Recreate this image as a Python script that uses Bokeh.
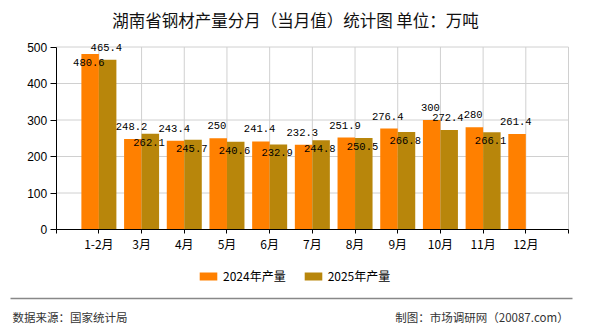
from bokeh.plotting import figure
from bokeh.models import (Range1d, FixedTicker, Label, ColumnDataSource, Legend,
                          LegendItem, BoxAnnotation, LinearAxis)
from bokeh.core.properties import value
from bokeh.embed import file_html
from bokeh.resources import INLINE

# ---- data ----
categories = ["1-2月", "3月", "4月", "5月", "6月", "7月", "8月", "9月", "10月", "11月", "12月"]
prod_2024 = [480.6, 248.2, 243.4, 250, 241.4, 232.3, 251.9, 276.4, 300, 280, 261.4]
prod_2025 = [465.4, 262.1, 245.7, 240.6, 232.9, 244.8, 250.5, 266.8, 272.4, 266.1]
y_ticks = [0, 100, 200, 300, 400, 500]
series_names = ["2024年产量", "2025年产量"]
# label placement (style): "out" above bar top, "in" just below bar top
place_2024 = ["in"] + ["out"] * 10
place_2025 = ["out", "in", "in", "in", "in", "in", "in", "in", "out", "in"]

C24 = "#FF8000"
C25 = "#B8860B"
GRID = "#d0d0d0"
CJK = "Noto Sans CJK SC"

n = len(categories)
W, H = 590, 330
# plot area in canvas pixels
PX_L, PX_R, PX_T, PX_B = 55.7, 568.0, 46.5, 229.0
x_lo, x_hi = 0, n + 1
y_lo, y_hi = y_ticks[0], y_ticks[-1]
ux = (PX_R - PX_L) / (x_hi - x_lo)
uy = (PX_B - PX_T) / (y_hi - y_lo)
xr = Range1d(x_lo - PX_L / ux, x_hi + (W - PX_R) / ux)
yr = Range1d(y_lo - (H - PX_B) / uy, y_hi + PX_T / uy)

p = figure(width=W, height=H, output_backend="svg", toolbar_location=None,
           x_range=xr, y_range=yr, x_axis_location=None, y_axis_location=None,
           min_border=0, min_border_left=0, min_border_right=0,
           min_border_top=0, min_border_bottom=0)
p.outline_line_color = None
p.background_fill_color = "white"
p.border_fill_color = "white"
p.grid.visible = False

# grid lines (limited to the plot area)
xg = list(range(x_lo + 1, x_hi + 1))
p.segment(x0=xg, y0=[y_lo] * len(xg), x1=xg, y1=[y_hi] * len(xg),
          line_color=GRID, line_width=1)
yg = y_ticks[1:]
p.segment(x0=[x_lo] * len(yg), y0=yg, x1=[x_hi] * len(yg), y1=yg,
          line_color=GRID, line_width=1)

# axes drawn inside the frame at fixed locations
xa = LinearAxis(fixed_location=y_lo, bounds=(x_lo, x_hi))
xa.ticker = FixedTicker(ticks=list(range(x_lo, x_hi + 1)))
ov = {x_lo: "", x_hi: ""}
for i, c in enumerate(categories):
    ov[i + 1] = c
xa.major_label_overrides = ov
xa.axis_line_color = "black"
xa.major_tick_line_color = "black"
xa.major_tick_out = 4
xa.major_tick_in = 0
xa.minor_tick_line_color = None
xa.major_label_standoff = 1
xa.major_label_text_font = CJK
xa.major_label_text_font_size = "12px"
xa.major_label_text_color = "black"
p.add_layout(xa, "below")

ya = LinearAxis(fixed_location=x_lo, bounds=(y_lo, y_hi))
ya.ticker = FixedTicker(ticks=y_ticks)
ya.axis_line_color = "black"
ya.major_tick_line_color = "black"
ya.major_tick_out = 6
ya.major_tick_in = 0
ya.minor_tick_line_color = None
ya.major_label_standoff = 3
ya.major_label_text_font = "Liberation Sans"
ya.major_label_text_font_size = "12px"
ya.major_label_text_color = "black"
p.add_layout(ya, "left")

# bars
bw = 0.41
x24 = [i + 1 - bw / 2 for i in range(len(prod_2024))]
x25 = [i + 1 + bw / 2 for i in range(len(prod_2025))]
r24 = p.vbar(x=x24, top=prod_2024, width=bw, fill_color=C24, line_color=None)
r25 = p.vbar(x=x25, top=prod_2025, width=bw, fill_color=C25, line_color=None)

# value labels
OUT, IN = -12.5, 8.5
s24 = ColumnDataSource(dict(x=[v - 0.03 for v in x24], y=prod_2024,
                            t=[f"{v:g}" for v in prod_2024],
                            off=[OUT if q == "out" else IN for q in place_2024]))
s25 = ColumnDataSource(dict(x=[v - 0.03 for v in x25], y=prod_2025,
                            t=[f"{v:g}" for v in prod_2025],
                            off=[OUT if q == "out" else IN for q in place_2025]))
for s in (s24, s25):
    p.text(x="x", y="y", text="t", y_offset="off", source=s,
           text_font=value("Liberation Mono"), text_font_size="10.5px",
           text_align="center", text_baseline="middle", text_color="black")

# text annotations in screen units (frame = whole canvas, y measured from bottom)
def lab(x, y, text, size, color, align):
    p.add_layout(Label(x=x, y=H - y, x_units="screen", y_units="screen", text=text,
                       text_font=CJK, text_font_size=size, text_color=color,
                       text_align=align, text_baseline="middle"))

lab(295, 19, "湖南省钢材产量分月（当月值）统计图 单位：万吨", "16.5px", "#111111", "center")
lab(12, 316.5, "数据来源：国家统计局", "11.5px", "#333333", "left")
lab(568, 316.5, "制图：市场调研网（20087.com）", "11.5px", "#333333", "right")

# separator line
p.add_layout(BoxAnnotation(left=10, right=572, bottom=H - 298.7, top=H - 297.3,
                           left_units="screen", right_units="screen",
                           bottom_units="screen", top_units="screen",
                           fill_color="#888888", fill_alpha=1, line_color=None))

# legend
legend = Legend(items=[LegendItem(label=series_names[0], renderers=[r24]),
                       LegendItem(label=series_names[1], renderers=[r25])],
                orientation="horizontal", location=(197, H - 284),
                glyph_width=22, glyph_height=10, label_standoff=4, spacing=16,
                padding=0, margin=0, label_height=14,
                label_text_font=CJK, label_text_font_size="12px",
                label_text_color="black",
                border_line_color=None, background_fill_alpha=0)
p.add_layout(legend)

open("out.html", "w").write(file_html(p, INLINE))
